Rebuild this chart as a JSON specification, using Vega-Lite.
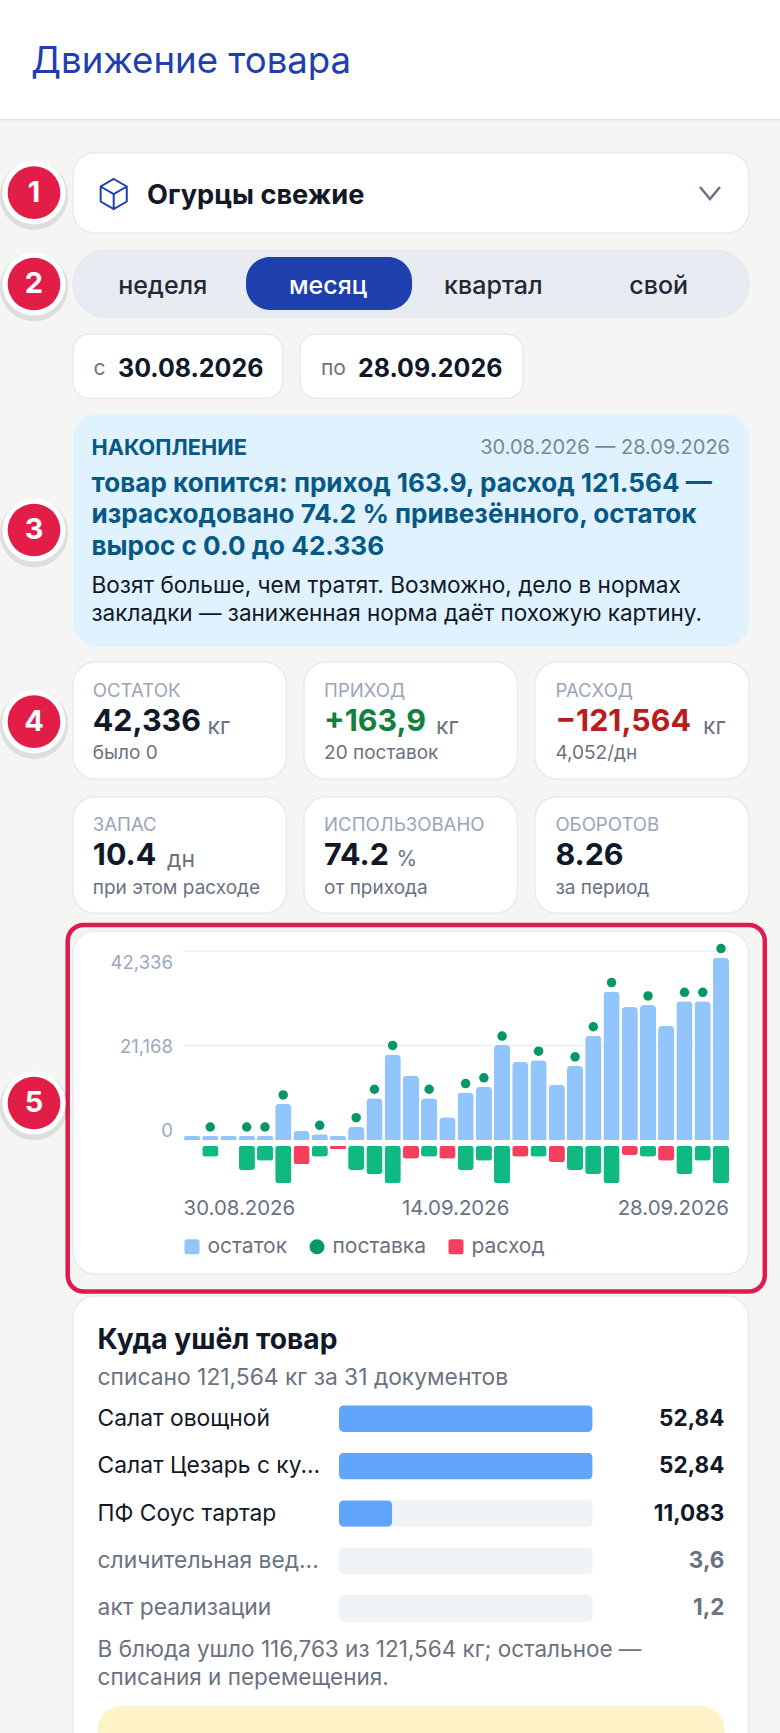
{
  "$schema": "https://vega.github.io/schema/vega-lite/v6.json",
  "width": 780,
  "height": 1733,
  "padding": 0,
  "autosize": {"type": "none"},
  "background": "#f5f5f3",
  "config": {
    "font": "Inter",
    "view": {"stroke": null},
    "text": {"align": "left", "baseline": "middle"}
  },
  "data": {"values": [{}]},
  "datasets": {
    "days": [
      {"day": "30.08.2026", "stock": 0.93},
      {"day": "31.08.2026", "stock": 0.93, "delivery": 1, "move": 3.83, "kind": "приход"},
      {"day": "01.09.2026", "stock": 0.93},
      {"day": "02.09.2026", "stock": 0.93, "delivery": 1, "move": 8.47, "kind": "приход"},
      {"day": "03.09.2026", "stock": 0.93, "delivery": 1, "move": 5.22, "kind": "приход"},
      {"day": "04.09.2026", "stock": 8.37, "delivery": 1, "move": 13.11, "kind": "приход"},
      {"day": "05.09.2026", "stock": 2.17, "move": 6.5, "kind": "расход"},
      {"day": "06.09.2026", "stock": 1.32, "delivery": 1, "move": 3.83, "kind": "приход"},
      {"day": "07.09.2026", "stock": 0.93, "move": 1.28, "kind": "расход"},
      {"day": "08.09.2026", "stock": 3.1, "delivery": 1, "move": 8.47, "kind": "приход"},
      {"day": "09.09.2026", "stock": 9.69, "delivery": 1, "move": 9.86, "kind": "приход"},
      {"day": "10.09.2026", "stock": 19.85, "delivery": 1, "move": 13.11, "kind": "приход"},
      {"day": "11.09.2026", "stock": 14.97, "move": 4.52, "kind": "расход"},
      {"day": "12.09.2026", "stock": 9.69, "delivery": 1, "move": 3.83, "kind": "приход"},
      {"day": "13.09.2026", "stock": 5.27, "move": 4.52, "kind": "расход"},
      {"day": "14.09.2026", "stock": 11.01, "delivery": 1, "move": 8.47, "kind": "приход"},
      {"day": "15.09.2026", "stock": 12.33, "delivery": 1, "move": 5.22, "kind": "приход"},
      {"day": "16.09.2026", "stock": 22.02, "delivery": 1, "move": 13.11, "kind": "приход"},
      {"day": "17.09.2026", "stock": 18.07, "move": 3.83, "kind": "расход"},
      {"day": "18.09.2026", "stock": 18.53, "delivery": 1, "move": 3.83, "kind": "приход"},
      {"day": "19.09.2026", "stock": 12.79, "move": 5.8, "kind": "расход"},
      {"day": "20.09.2026", "stock": 17.21, "delivery": 1, "move": 8.47, "kind": "приход"},
      {"day": "21.09.2026", "stock": 24.19, "delivery": 1, "move": 9.86, "kind": "приход"},
      {"day": "22.09.2026", "stock": 34.43, "delivery": 1, "move": 13.11, "kind": "приход"},
      {"day": "23.09.2026", "stock": 30.86, "move": 3.25, "kind": "расход"},
      {"day": "24.09.2026", "stock": 31.33, "delivery": 1, "move": 3.83, "kind": "приход"},
      {"day": "25.09.2026", "stock": 26.44, "move": 5.22, "kind": "расход"},
      {"day": "26.09.2026", "stock": 32.18, "delivery": 1, "move": 9.86, "kind": "приход"},
      {"day": "27.09.2026", "stock": 32.18, "delivery": 1, "move": 5.22, "kind": "приход"},
      {"day": "28.09.2026", "stock": 42.336, "delivery": 1, "move": 13.11, "kind": "приход"}
    ],
    "grid": [{"kg": 21.925}, {"kg": 43.85}],
    "periods": [
      {"period": "неделя", "selected": false},
      {"period": "месяц", "selected": true},
      {"period": "квартал", "selected": false},
      {"period": "свой", "selected": false}
    ],
    "kpi": [
      {"name": "ОСТАТОК", "value": "42,336", "unit": "кг", "note": "было 0", "col": 1, "row": 1, "tone": "нейтр"},
      {"name": "ПРИХОД", "value": "+163,9", "unit": "кг", "note": "20 поставок", "col": 2, "row": 1, "tone": "плюс"},
      {"name": "РАСХОД", "value": "−121,564", "unit": "кг", "note": "4,052/дн", "col": 3, "row": 1, "tone": "минус"},
      {"name": "ЗАПАС", "value": "10.4", "unit": "дн", "note": "при этом расходе", "col": 1, "row": 2, "tone": "нейтр"},
      {"name": "ИСПОЛЬЗОВАНО", "value": "74.2", "unit": "%", "note": "от прихода", "col": 2, "row": 2, "tone": "нейтр"},
      {"name": "ОБОРОТОВ", "value": "8.26", "note": "за период", "col": 3, "row": 2, "tone": "нейтр"}
    ],
    "where": [
      {"name": "Салат овощной", "kg": 52.84, "label": "52,84", "kind": "блюдо"},
      {"name": "Салат Цезарь с ку...", "kg": 52.84, "label": "52,84", "kind": "блюдо"},
      {"name": "ПФ Соус тартар", "kg": 11.083, "label": "11,083", "kind": "блюдо"},
      {"name": "сличительная вед...", "kg": 3.6, "label": "3,6", "kind": "документ"},
      {"name": "акт реализации", "kg": 1.2, "label": "1,2", "kind": "документ"}
    ],
    "badges": [{"n": 1}, {"n": 2}, {"n": 3}, {"n": 4}, {"n": 5}]
  },
  "layer": [
    {"mark": {"type": "rect", "x": 0, "x2": 780, "y": 0, "y2": 119, "fill": "#ffffff"}, "encoding": {}},
    {"mark": {"type": "rect", "x": 0, "x2": 780, "y": 119, "y2": 120.5, "fill": "#e6e6e6"}, "encoding": {}},
    {"mark": {"type": "text", "text": "Движение товара", "x": 31, "y": 61.5, "fontSize": 36.6, "color": "#1e40af"}, "encoding": {}},

    {"mark": {"type": "rect", "x": 73, "x2": 749, "y": 152.7, "y2": 233, "fill": "#ffffff", "stroke": "#e8eaee", "strokeWidth": 1.5, "cornerRadius": 22}, "encoding": {}},
    {"mark": {"type": "point", "shape": "M0,-1L0.87,-0.5L0.87,0.5L0,1L-0.87,0.5L-0.87,-0.5ZM-0.87,-0.5L0,0L0.87,-0.5M0,0L0,1", "x": 113.7, "y": 194, "size": 900, "stroke": "#1e40af", "strokeWidth": 2, "fill": null, "opacity": 1}, "encoding": {}},
    {"mark": {"type": "text", "text": "Огурцы свежие", "x": 147, "y": 196, "fontSize": 27.2, "fontWeight": 700, "color": "#111827"}, "encoding": {}},
    {"mark": {"type": "point", "shape": "M-1,-0.6L0,0.6L1,-0.6", "x": 710, "y": 193, "size": 400, "stroke": "#6b7280", "strokeWidth": 2.5, "fill": null, "opacity": 1}, "encoding": {}},

    {"mark": {"type": "rect", "x": 73, "x2": 749, "y": 250, "y2": 317.3, "fill": "#e8ebf2", "stroke": "#e4e7ee", "cornerRadius": 33}, "encoding": {}},
    {
      "data": {"name": "periods"},
      "transform": [{"filter": "datum.selected"}],
      "mark": {"type": "rect", "width": 166, "xOffset": 1, "y": 257, "y2": 310, "fill": "#1e40af", "cornerRadius": 24},
      "encoding": {
        "x": {"field": "period", "type": "nominal", "sort": null, "axis": null, "scale": {"type": "point", "padding": 0, "domain": ["неделя", "месяц", "квартал", "свой"], "range": [162.7, 658.7]}}
      }
    },
    {
      "data": {"name": "periods"},
      "mark": {"type": "text", "y": 286, "align": "center", "fontSize": 25, "fontWeight": 500},
      "encoding": {
        "x": {"field": "period", "type": "nominal", "sort": null, "axis": null, "scale": {"type": "point", "padding": 0, "domain": ["неделя", "месяц", "квартал", "свой"], "range": [162.7, 658.7]}},
        "text": {"field": "period"},
        "color": {"condition": {"test": "datum.selected", "value": "#ffffff"}, "value": "#1f2937"}
      }
    },

    {"mark": {"type": "rect", "x": 73, "x2": 282.6, "y": 334.3, "y2": 398.3, "fill": "#ffffff", "stroke": "#e8eaee", "strokeWidth": 1.5, "cornerRadius": 16}, "encoding": {}},
    {"mark": {"type": "rect", "x": 300, "x2": 523, "y": 334.3, "y2": 398.3, "fill": "#ffffff", "stroke": "#e8eaee", "strokeWidth": 1.5, "cornerRadius": 16}, "encoding": {}},
    {"mark": {"type": "text", "text": "с", "x": 93.5, "y": 369, "fontSize": 21, "color": "#6b7280"}, "encoding": {}},
    {"mark": {"type": "text", "text": "30.08.2026", "x": 118, "y": 369, "fontSize": 25, "fontWeight": 700, "color": "#111827"}, "encoding": {}},
    {"mark": {"type": "text", "text": "по", "x": 321, "y": 369, "fontSize": 21, "color": "#6b7280"}, "encoding": {}},
    {"mark": {"type": "text", "text": "28.09.2026", "x": 358, "y": 369, "fontSize": 25, "fontWeight": 700, "color": "#111827"}, "encoding": {}},

    {"mark": {"type": "rect", "x": 73, "x2": 749, "y": 414.3, "y2": 646, "fill": "#e0f2fe", "cornerRadius": 24}, "encoding": {}},
    {"mark": {"type": "text", "text": "НАКОПЛЕНИЕ", "x": 91.5, "y": 448, "fontSize": 21.7, "fontWeight": 700, "color": "#075985"}, "encoding": {}},
    {"mark": {"type": "text", "text": "30.08.2026 — 28.09.2026", "x": 730, "y": 448, "align": "right", "fontSize": 20, "color": "#7b8794"}, "encoding": {}},
    {"mark": {"type": "text", "text": "товар копится: приход 163.9, расход 121.564 —", "x": 91.5, "y": 483.7, "fontSize": 26.1, "fontWeight": 700, "color": "#075985"}, "encoding": {}},
    {"mark": {"type": "text", "text": "израсходовано 74.2 % привезённого, остаток", "x": 91.5, "y": 515.3, "fontSize": 26.1, "fontWeight": 700, "color": "#075985"}, "encoding": {}},
    {"mark": {"type": "text", "text": "вырос с 0.0 до 42.336", "x": 91.5, "y": 547, "fontSize": 26.1, "fontWeight": 700, "color": "#075985"}, "encoding": {}},
    {"mark": {"type": "text", "text": "Возят больше, чем тратят. Возможно, дело в нормах", "x": 91.5, "y": 585.7, "fontSize": 22.6, "color": "#111827"}, "encoding": {}},
    {"mark": {"type": "text", "text": "закладки — заниженная норма даёт похожую картину.", "x": 91.5, "y": 613.7, "fontSize": 22.5, "color": "#111827"}, "encoding": {}},

    {"mark": {"type": "rect", "x": 73, "x2": 286.4, "y": 662, "y2": 779, "fill": "#ffffff", "stroke": "#e8eaee", "strokeWidth": 1.5, "cornerRadius": 22}, "encoding": {}},
    {"mark": {"type": "rect", "x": 304, "x2": 517.4, "y": 662, "y2": 779, "fill": "#ffffff", "stroke": "#e8eaee", "strokeWidth": 1.5, "cornerRadius": 22}, "encoding": {}},
    {"mark": {"type": "rect", "x": 535, "x2": 749, "y": 662, "y2": 779, "fill": "#ffffff", "stroke": "#e8eaee", "strokeWidth": 1.5, "cornerRadius": 22}, "encoding": {}},
    {"mark": {"type": "rect", "x": 73, "x2": 286.4, "y": 796.7, "y2": 913.3, "fill": "#ffffff", "stroke": "#e8eaee", "strokeWidth": 1.5, "cornerRadius": 22}, "encoding": {}},
    {"mark": {"type": "rect", "x": 304, "x2": 517.4, "y": 796.7, "y2": 913.3, "fill": "#ffffff", "stroke": "#e8eaee", "strokeWidth": 1.5, "cornerRadius": 22}, "encoding": {}},
    {"mark": {"type": "rect", "x": 535, "x2": 749, "y": 796.7, "y2": 913.3, "fill": "#ffffff", "stroke": "#e8eaee", "strokeWidth": 1.5, "cornerRadius": 22}, "encoding": {}},
    {
      "data": {"name": "kpi"},
      "mark": {"type": "text", "fontSize": 18.6, "color": "#9aa5b8"},
      "encoding": {
        "x": {"field": "col", "type": "ordinal", "axis": null, "scale": {"type": "point", "padding": 0, "range": [92.8, 555.4]}},
        "y": {"field": "row", "type": "ordinal", "axis": null, "scale": {"type": "point", "padding": 0, "range": [690.7, 825.3]}},
        "text": {"field": "name"}
      }
    },
    {
      "data": {"name": "kpi"},
      "mark": {"type": "text", "fontSize": 30.4, "fontWeight": 700},
      "encoding": {
        "x": {"field": "col", "type": "ordinal", "axis": null, "scale": {"type": "point", "padding": 0, "range": [92.8, 555.4]}},
        "y": {"field": "row", "type": "ordinal", "axis": null, "scale": {"type": "point", "padding": 0, "range": [722, 856]}},
        "text": {"field": "value"},
        "color": {"field": "tone", "type": "nominal", "legend": null, "scale": {"domain": ["нейтр", "плюс", "минус"], "range": ["#111827", "#15803d", "#b91c1c"]}}
      }
    },
    {
      "data": {"name": "kpi"},
      "mark": {"type": "text", "fontSize": 19, "color": "#6b7280"},
      "encoding": {
        "x": {"field": "col", "type": "ordinal", "axis": null, "scale": {"type": "point", "padding": 0, "range": [92.8, 555.4]}},
        "y": {"field": "row", "type": "ordinal", "axis": null, "scale": {"type": "point", "padding": 0, "range": [753.3, 888.3]}},
        "text": {"field": "note"}
      }
    },
    {"mark": {"type": "text", "text": "кг", "x": 207.5, "y": 727, "fontSize": 23, "color": "#6b7280"}, "encoding": {}},
    {"mark": {"type": "text", "text": "кг", "x": 436, "y": 727, "fontSize": 23, "color": "#6b7280"}, "encoding": {}},
    {"mark": {"type": "text", "text": "кг", "x": 703, "y": 727, "fontSize": 23, "color": "#6b7280"}, "encoding": {}},
    {"mark": {"type": "text", "text": "дн", "x": 167, "y": 860, "fontSize": 23, "color": "#6b7280"}, "encoding": {}},
    {"mark": {"type": "text", "text": "%", "x": 396.5, "y": 860, "fontSize": 21, "color": "#6b7280"}, "encoding": {}},

    {"mark": {"type": "rect", "x": 73, "x2": 748.5, "y": 931, "y2": 1274, "fill": "#ffffff", "stroke": "#e8eaee", "strokeWidth": 1.5, "cornerRadius": 22}, "encoding": {}},
    {"mark": {"type": "rect", "x": 67.7, "x2": 764.8, "y": 925, "y2": 1291.6, "fill": null, "stroke": "#dc1c4e", "strokeWidth": 4.5, "cornerRadius": 16}, "encoding": {}},
    {
      "data": {"name": "grid"},
      "mark": {"type": "rule", "x": 184, "x2": 729, "stroke": "#eef1f5", "strokeWidth": 2},
      "encoding": {
        "y": {"field": "kg", "type": "quantitative", "axis": null, "scale": {"domain": [0, 43.85], "range": [1140, 951]}}
      }
    },
    {
      "data": {"name": "days"},
      "mark": {"type": "bar", "color": "#93c5fd", "cornerRadiusTopLeft": 4, "cornerRadiusTopRight": 4},
      "encoding": {
        "x": {
          "field": "day", "type": "nominal", "sort": null,
          "scale": {"range": [184, 729], "paddingInner": 0.11, "paddingOuter": 0},
          "axis": {
            "orient": "bottom", "title": null, "offset": -524.5, "zindex": 1,
            "values": ["30.08.2026", "14.09.2026", "28.09.2026"],
            "domain": false, "ticks": false, "grid": false, "labelPadding": 0, "labelAngle": 0, "labelOverlap": false,
            "labelBaseline": "middle", "labelFontSize": 20.4, "labelColor": "#6b7280",
            "labelAlign": {"condition": [{"test": "datum.value === '30.08.2026'", "value": "left"}, {"test": "datum.value === '28.09.2026'", "value": "right"}], "value": "center"},
            "labelOffset": {"condition": [{"test": "datum.value === '30.08.2026'", "value": -8.5}, {"test": "datum.value === '28.09.2026'", "value": 8}], "value": -10}
          }
        },
        "y": {
          "field": "stock", "type": "quantitative",
          "scale": {"domain": [0, 43.85], "range": [1140, 951]},
          "axis": {
            "orient": "left", "title": null, "offset": -172.5, "zindex": 1, "values": [0, 21.168, 42.336],
            "domain": false, "ticks": false, "grid": false, "labelPadding": 0, "labelFontSize": 18.5, "labelColor": "#9ca8bc",
            "labelExpr": "datum.value == 0 ? '0' : replace(format(datum.value, '.3f'), '.', ',')",
            "labelOffset": {"condition": [{"test": "datum.value == 0", "value": -10}, {"test": "datum.value > 40", "value": 5.3}], "value": -2.3}
          }
        }
      }
    },
    {
      "data": {"name": "days"},
      "transform": [{"filter": "datum.delivery == 1"}],
      "mark": {"type": "point", "filled": true, "size": 90, "opacity": 1, "yOffset": -9},
      "encoding": {
        "x": {"field": "day", "type": "nominal", "sort": null, "axis": null, "scale": {"type": "point", "padding": 0, "range": [192, 721], "domain": ["30.08.2026","31.08.2026","01.09.2026","02.09.2026","03.09.2026","04.09.2026","05.09.2026","06.09.2026","07.09.2026","08.09.2026","09.09.2026","10.09.2026","11.09.2026","12.09.2026","13.09.2026","14.09.2026","15.09.2026","16.09.2026","17.09.2026","18.09.2026","19.09.2026","20.09.2026","21.09.2026","22.09.2026","23.09.2026","24.09.2026","25.09.2026","26.09.2026","27.09.2026","28.09.2026"]}},
        "y": {"field": "stock", "type": "quantitative", "axis": null, "scale": {"domain": [0, 43.85], "range": [1140, 951]}},
        "color": {
          "datum": "поставка", "type": "nominal",
          "scale": {"domain": ["остаток", "поставка", "расход"], "range": ["#93c5fd", "#059669", "#f43f5e"]},
          "legend": {
            "orient": "none", "legendX": 181.5, "legendY": 1236, "direction": "horizontal", "columns": 3, "title": null,
            "padding": 0, "columnPadding": 19, "labelFontSize": 21, "labelColor": "#6b7280", "labelOffset": 5, "symbolSize": 225, "symbolStrokeWidth": 0
          }
        },
        "shape": {
          "datum": "поставка", "type": "nominal",
          "scale": {"domain": ["остаток", "поставка", "расход"], "range": ["M-0.65,-1H0.65Q1,-1 1,-0.65V0.65Q1,1 0.65,1H-0.65Q-1,1 -1,0.65V-0.65Q-1,-1 -0.65,-1Z", "circle", "M-0.65,-1H0.65Q1,-1 1,-0.65V0.65Q1,1 0.65,1H-0.65Q-1,1 -1,0.65V-0.65Q-1,-1 -0.65,-1Z"]}
        }
      }
    },
    {
      "data": {"name": "days"},
      "transform": [{"filter": "isValid(datum.move)"}],
      "mark": {"type": "bar", "cornerRadius": 3},
      "encoding": {
        "x": {"field": "day", "type": "nominal", "sort": null, "axis": null, "scale": {"range": [184, 729], "paddingInner": 0.11, "paddingOuter": 0, "domain": ["30.08.2026","31.08.2026","01.09.2026","02.09.2026","03.09.2026","04.09.2026","05.09.2026","06.09.2026","07.09.2026","08.09.2026","09.09.2026","10.09.2026","11.09.2026","12.09.2026","13.09.2026","14.09.2026","15.09.2026","16.09.2026","17.09.2026","18.09.2026","19.09.2026","20.09.2026","21.09.2026","22.09.2026","23.09.2026","24.09.2026","25.09.2026","26.09.2026","27.09.2026","28.09.2026"]}},
        "y": {"field": "move", "type": "quantitative", "axis": null, "scale": {"domain": [0, 13.11], "range": [1145.7, 1183.3]}},
        "color": {"field": "kind", "type": "nominal", "legend": null, "scale": {"domain": ["приход", "расход"], "range": ["#10b981", "#f43f5e"]}}
      }
    },

    {"mark": {"type": "rect", "x": 73, "x2": 748.5, "y": 1296, "y2": 1760, "fill": "#ffffff", "stroke": "#e8eaee", "strokeWidth": 1.5, "cornerRadius": 22}, "encoding": {}},
    {"mark": {"type": "text", "text": "Куда ушёл товар", "x": 97.6, "y": 1341, "fontSize": 28.2, "fontWeight": 700, "color": "#111827"}, "encoding": {}},
    {"mark": {"type": "text", "text": "списано 121,564 кг за 31 документов", "x": 97.6, "y": 1377.7, "fontSize": 22.8, "color": "#6b7280"}, "encoding": {}},
    {
      "data": {"name": "where"},
      "mark": {"type": "rect", "x": 339, "x2": 592.6, "fill": "#eff2f6", "cornerRadius": 5},
      "encoding": {
        "y": {"field": "name", "type": "nominal", "sort": null, "axis": null, "scale": {"range": [1395, 1632], "paddingInner": 0.437, "paddingOuter": 0.2185}}
      }
    },
    {
      "data": {"name": "where"},
      "transform": [{"filter": "datum.kind == 'блюдо'"}],
      "mark": {"type": "bar", "color": "#60a5fa", "cornerRadius": 5},
      "encoding": {
        "x": {"field": "kg", "type": "quantitative", "axis": null, "scale": {"domain": [0, 52.84], "range": [339, 592.6]}},
        "y": {"field": "name", "type": "nominal", "sort": null, "axis": null, "scale": {"domain": ["Салат овощной", "Салат Цезарь с ку...", "ПФ Соус тартар", "сличительная вед...", "акт реализации"], "range": [1395, 1632], "paddingInner": 0.437, "paddingOuter": 0.2185}}
      }
    },
    {
      "data": {"name": "where"},
      "mark": {"type": "text", "x": 97.6, "fontSize": 22.8},
      "encoding": {
        "y": {"field": "name", "type": "nominal", "sort": null, "axis": null, "scale": {"range": [1395, 1632], "paddingInner": 0.437, "paddingOuter": 0.2185}},
        "text": {"field": "name"},
        "color": {"condition": {"test": "datum.kind == 'документ'", "value": "#6b7280"}, "value": "#111827"}
      }
    },
    {
      "data": {"name": "where"},
      "mark": {"type": "text", "x": 724.4, "align": "right", "fontSize": 22.5, "fontWeight": 700},
      "encoding": {
        "y": {"field": "name", "type": "nominal", "sort": null, "axis": null, "scale": {"range": [1395, 1632], "paddingInner": 0.437, "paddingOuter": 0.2185}},
        "text": {"field": "label"},
        "color": {"condition": {"test": "datum.kind == 'документ'", "value": "#6b7280"}, "value": "#111827"}
      }
    },
    {"mark": {"type": "text", "text": "В блюда ушло 116,763 из 121,564 кг; остальное —", "x": 97.6, "y": 1650, "fontSize": 22.5, "color": "#6b7280"}, "encoding": {}},
    {"mark": {"type": "text", "text": "списания и перемещения.", "x": 97.6, "y": 1678.3, "fontSize": 22.5, "color": "#6b7280"}, "encoding": {}},
    {"mark": {"type": "rect", "x": 97.6, "x2": 724.4, "y": 1706, "y2": 1760, "fill": "#fef3c7", "cornerRadius": 24}, "encoding": {}},

    {
      "data": {"name": "badges"},
      "mark": {"type": "point", "filled": true, "x": 34, "yOffset": 3, "size": 4700, "color": "#000000", "opacity": 0.09},
      "encoding": {
        "y": {"field": "n", "type": "quantitative", "axis": null, "scale": {"domain": [1, 2, 3, 4, 5], "range": [192.7, 284, 530, 721.7, 1103]}}
      }
    },
    {
      "data": {"name": "badges"},
      "mark": {"type": "point", "filled": true, "x": 34, "size": 4000, "color": "#ffffff", "opacity": 1},
      "encoding": {
        "y": {"field": "n", "type": "quantitative", "axis": null, "scale": {"domain": [1, 2, 3, 4, 5], "range": [192.7, 284, 530, 721.7, 1103]}}
      }
    },
    {
      "data": {"name": "badges"},
      "mark": {"type": "point", "filled": true, "x": 34, "size": 2777, "color": "#e11d48", "opacity": 1},
      "encoding": {
        "y": {"field": "n", "type": "quantitative", "axis": null, "scale": {"domain": [1, 2, 3, 4, 5], "range": [192.7, 284, 530, 721.7, 1103]}}
      }
    },
    {
      "data": {"name": "badges"},
      "mark": {"type": "text", "x": 34, "align": "center", "fontSize": 29, "fontWeight": 700, "color": "#ffffff"},
      "encoding": {
        "y": {"field": "n", "type": "quantitative", "axis": null, "scale": {"domain": [1, 2, 3, 4, 5], "range": [192.7, 284, 530, 721.7, 1103]}},
        "text": {"field": "n"}
      }
    }
  ],
  "resolve": {
    "scale": {"x": "independent", "y": "independent", "color": "independent", "shape": "independent"},
    "axis": {"x": "independent", "y": "independent"}
  }
}
